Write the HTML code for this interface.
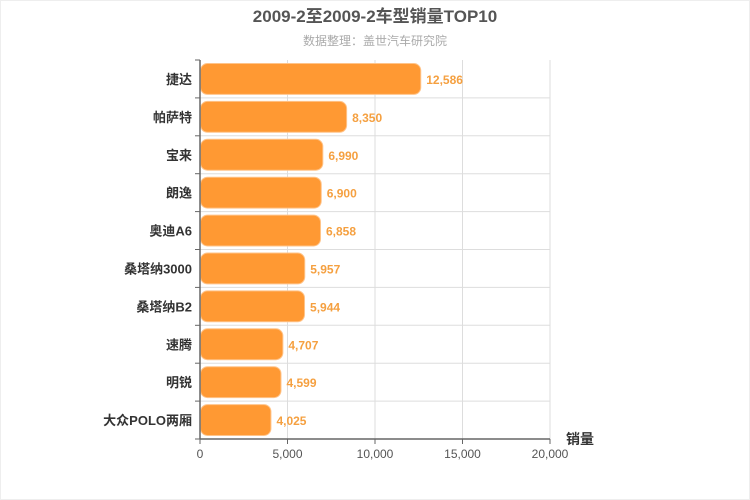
<!DOCTYPE html>
<html><head><meta charset="utf-8"><style>
body{margin:0;background:#fff;}
svg{display:block;font-family:"Liberation Sans","Noto Sans CJK SC",sans-serif;}
</style></head><body>
<svg id="c" width="750" height="500" viewBox="0 0 750 500">
<rect x="0.5" y="0.5" width="749" height="499" fill="#fff" stroke="#eee"/>
<text x="375" y="22" text-anchor="middle" font-size="17" font-weight="bold" fill="#555">2009-2至2009-2车型销量TOP10</text>
<text x="375" y="45" text-anchor="middle" font-size="12" fill="#aaa">数据整理：盖世汽车研究院</text>
<g id="grid"></g><g id="bars"></g><g id="axes"></g>
<text x="580" y="444" text-anchor="middle" font-size="14" font-weight="bold" fill="#333">销量</text>
</svg>
<script>
const categories=["捷达","帕萨特","宝来","朗逸","奥迪A6","桑塔纳3000","桑塔纳B2","速腾","明锐","大众POLO两厢"];
const values=[12586,8350,6990,6900,6858,5957,5944,4707,4599,4025];
const ticks=[0,5000,10000,15000,20000];
const NS="http://www.w3.org/2000/svg";
const L=200,R=550,T=60,B=439,MAX=20000;
const xs=v=>L+(R-L)*v/MAX;
const band=(B-T)/categories.length;
const ys=i=>T+band*i;
function mk(t,a,p){const e=document.createElementNS(NS,t);for(const k in a)e.setAttribute(k,a[k]);document.getElementById(p).appendChild(e);return e;}
ticks.forEach((t,i)=>{
 if(t>0){const g=mk("line",{x1:xs(t),x2:xs(t),y1:T,y2:B,stroke:"#ddd"},"grid");
 
 }
 const tk=mk("line",{x1:xs(t),x2:xs(t),y1:B,y2:B+5,stroke:"#666"},"axes");
 
 
 const tl=mk("text",{x:xs(t),y:B+19,"text-anchor":"middle","font-size":12,fill:"#555"},"axes");
 tl.textContent=t.toLocaleString("en-US");
 
 
});
categories.forEach((c,i)=>{
 if(i>0){const g=mk("line",{x1:L,x2:R,y1:ys(i),y2:ys(i),stroke:"#ddd"},"grid");
 
 }
 const b=mk("rect",{x:L+0.5,y:ys(i)+3.5,width:xs(values[i])-L,height:band-7,rx:7,fill:"#ff9933",stroke:"#ffc48a","stroke-width":1},"bars");
 
 
 const v=mk("text",{x:xs(values[i])+6,y:ys(i)+band/2+5,"font-size":12,"font-weight":"bold",fill:"#f5a040"},"bars");
 v.textContent=values[i].toLocaleString("en-US");
 
 
 const yl=mk("text",{x:L-8,y:ys(i)+band/2+5,"text-anchor":"end","font-size":13,"font-weight":"bold",fill:"#333"},"axes");
 yl.textContent=c;
 
 
});
for(let i=0;i<=categories.length;i++){const t=mk("line",{x1:L-5,x2:L,y1:ys(i),y2:ys(i),stroke:"#666"},"axes");
 
 }
const ya=mk("line",{x1:L,x2:L,y1:T,y2:B,stroke:"#666","stroke-width":1.5},"axes");


const xa=mk("line",{x1:L,x2:R,y1:B,y2:B,stroke:"#666","stroke-width":1.5},"axes");


</script>
</body></html>
